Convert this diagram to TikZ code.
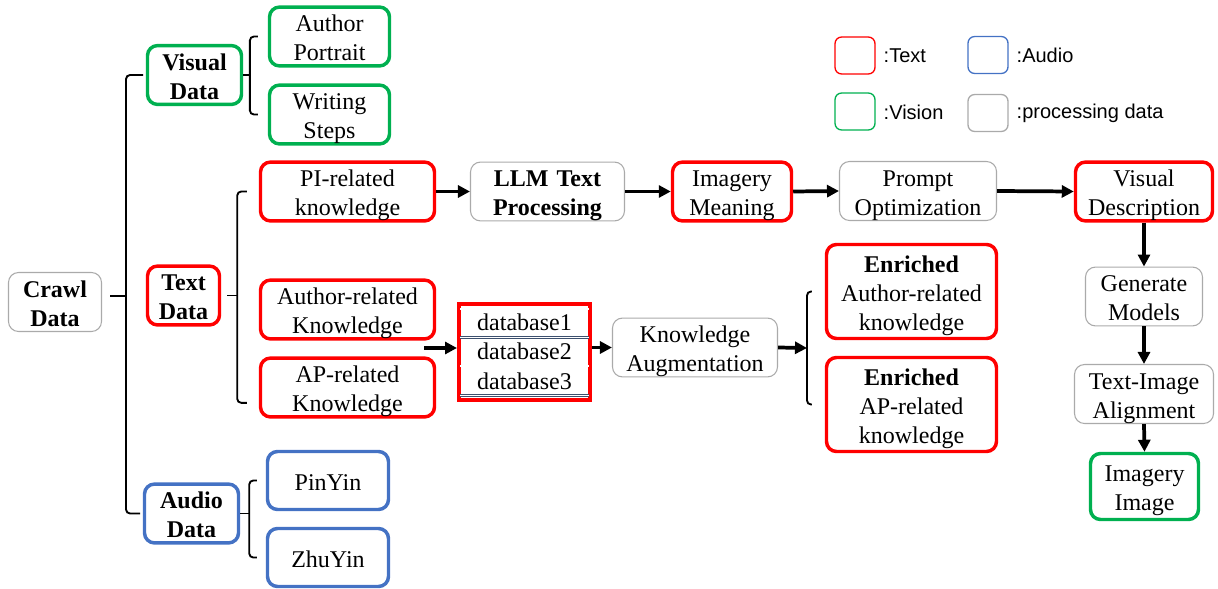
\documentclass[tikz,border=0pt]{standalone}
\usepackage{fontspec}
\setmainfont{Liberation Serif}
\newfontfamily\legendfont{Liberation Sans}
\usetikzlibrary{arrows.meta}
\definecolor{cred}{RGB}{255,0,0}
\definecolor{cgreen}{RGB}{0,176,80}
\definecolor{cblue}{RGB}{68,114,196}
\definecolor{cgray}{RGB}{170,170,170}
\definecolor{cnavy}{RGB}{60,80,110}
\newcommand\boxfont{\fontsize{18}{21.75}\selectfont}
\tikzset{
  px/.style={x=0.75pt,y=-0.75pt,font=\boxfont},
  box/.style={rounded corners=7.5pt,align=center,inner sep=0pt,
    execute at begin node={\rule{0pt}{18.4pt}},
    execute at end node={\rule[-4pt]{0pt}{0pt}}},
  txtbox/.style={box,draw=cred,line width=2.6pt},
  visbox/.style={box,draw=cgreen,line width=2.6pt},
  audbox/.style={box,draw=cblue,line width=2.6pt},
  procbox/.style={box,draw=cgray,line width=0.8pt},
  sz/.style 2 args={minimum width=#1*0.75pt,minimum height=#2*0.75pt},
  tw/.style={text width=#1*0.75pt},
  flow/.style={-{Triangle[length=9pt,width=9pt]},line width=2.8pt},
  brace/.style={line width=1.4pt,rounded corners=3pt},
  dbsep/.style={draw=cnavy,double=white,double distance=1.2pt,line width=0.5pt},
  keybox/.style={rounded corners=5pt,line width=1pt,sz={40}{37}},
  keytext/.style={anchor=west,font=\legendfont\fontsize{15}{18}\selectfont},
}

\begin{document}
\begin{tikzpicture}[px]
    \useasboundingbox (0,0) rectangle (1218,589);
    % sources
    \node[procbox,sz={93}{59},tw=93] (crawl) at (55,302) {\textbf{Crawl}\\\textbf{Data}};
    \node[visbox,sz={94}{57},tw=94] (visual) at (194.5,75) {\textbf{Visual}\\\textbf{Data}};
    \node[txtbox,sz={72}{58},tw=72] (textd) at (183.5,295.5) {\textbf{Text}\\\textbf{Data}};
    \node[audbox,sz={94}{58},tw=94] (audio) at (191.5,513.5) {\textbf{Audio}\\\textbf{Data}};
    \node[visbox,sz={120}{58},tw=120] (portrait) at (329.5,36.5) {Author\\Portrait};
    \node[visbox,sz={120}{58},tw=120] (steps) at (329.5,114.5) {Writing\\Steps};
    \node[txtbox,sz={174}{58},tw=174] (pirel) at (347.5,191.5) {PI-related\\knowledge};
    \node[txtbox,sz={174}{58},tw=174] (authrel) at (347.5,309.5) {Author-related\\Knowledge};
    \node[txtbox,sz={174}{58},tw=174] (aprel) at (347.5,387.5) {AP-related\\Knowledge};
    \node[audbox,sz={121}{58},tw=121] (pinyin) at (328,480.5) {PinYin};
    \node[audbox,sz={121}{58},tw=121] (zhuyin) at (328,557.5) {ZhuYin};
    % upper pipeline
    \node[procbox,sz={154}{58},tw=154] (llm) at (547.5,191.5) {\textbf{LLM Text}\\\textbf{Processing}};
    \node[txtbox,sz={119}{58},tw=119] (meaning) at (732,191.5) {Imagery\\Meaning};
    \node[procbox,sz={157}{59},tw=157] (prompt) at (918,191) {Prompt\\Optimization};
    \node[txtbox,sz={137}{58},tw=137] (visdesc) at (1144,191.5) {Visual\\Description};
    \node[procbox,sz={117}{58},tw=117] (genmod) at (1144,296.5) {Generate\\Models};
    \node[procbox,sz={139}{59},tw=139] (align) at (1144,394) {Text-Image\\Alignment};
    \node[visbox,sz={108}{66},tw=108] (imimg) at (1144.5,486.5) {Imagery\\Image};
    % lower pipeline
    \node[draw=cred,line width=3pt,sz={131}{96}] (db) at (524.5,352) {};
    \node (db1) at (524.5,322) {database1};
    \node (db2) at (524.5,351.5) {database2};
    \node (db3) at (524.5,381) {database3};
    \foreach \y in {309,337.5,366,395.5} \draw[dbsep] (460,\y) -- (589,\y);
    \node[procbox,sz={165}{58},tw=165] (augment) at (695,347.5) {Knowledge\\Augmentation};
    \node[txtbox,sz={170}{94},tw=170] (enauth) at (911.5,291.5) {\textbf{Enriched}\\Author-related\\knowledge};
    \node[txtbox,sz={170}{94},tw=170] (enap) at (911.5,404.5) {\textbf{Enriched}\\AP-related\\knowledge};
    % legend
    \node[keybox,draw=cred] (ktext) at (855,55.5) {};
    \node[keytext] at (879,56) {:Text};
    \node[keybox,draw=cblue] (kaudio) at (988,55) {};
    \node[keytext] at (1012,55) {:Audio};
    \node[keybox,draw=cgreen] (kvision) at (855,111.5) {};
    \node[keytext] at (879,112) {:Vision};
    \node[keybox,draw=cgray] (kproc) at (988,113) {};
    \node[keytext] at (1012,113) {:processing data};
    % braces
    \draw[brace] ([xshift=-2pt]visual.west) -| ([xshift=18pt]crawl.east) |- ([xshift=-2pt]audio.west);
    \draw[brace] ([xshift=6pt,yshift=4.5pt]crawl.east) -- ++(12pt,0);
    \draw[brace] ([xshift=-7.5pt]portrait.west) -| ([xshift=5pt]visual.east) |- ([xshift=-7.5pt]steps.west);
    \draw[brace] (visual.east) -- ++(5pt,0);
    \draw[brace] ([xshift=-9pt]pirel.west) -| ([xshift=12pt]textd.east) |- ([xshift=-9pt,yshift=-11.5pt]aprel.west);
    \draw[brace] ([xshift=4.5pt]textd.east) -- ++(7.5pt,0);
    \draw[brace] ([xshift=-6.75pt]pinyin.west) -| ([xshift=6.75pt]audio.east) |- ([xshift=-6.75pt]zhuyin.west);
    \draw[brace] (audio.east) -- ++(6.75pt,0);
    \coordinate (enb) at (807,348);
    \draw[brace] ([xshift=-9.75pt]enauth.west) -| (enb) |- ([xshift=-9.75pt]enap.west);
    % arrows
    \draw[flow] (pirel.east) -- (llm.west);
    \draw[flow] (llm.east) -- (meaning.west);
    \draw[flow] (meaning.east) -- (prompt.west);
    \draw[flow] (prompt.east) -- (visdesc.west);
    \draw[flow] (visdesc.south) -- (genmod.north);
    \draw[flow] (genmod.south) -- (align.north);
    \draw[flow] (align.south) -- (imimg.north);
    \coordinate (dbin) at (424,348);
    \draw[flow] (dbin) -- (dbin -| db.west);
    \draw[flow] (db.east |- augment.west) -- (augment.west);
    \draw[flow] (augment.east) -- (enb);
\end{tikzpicture}
\end{document}
